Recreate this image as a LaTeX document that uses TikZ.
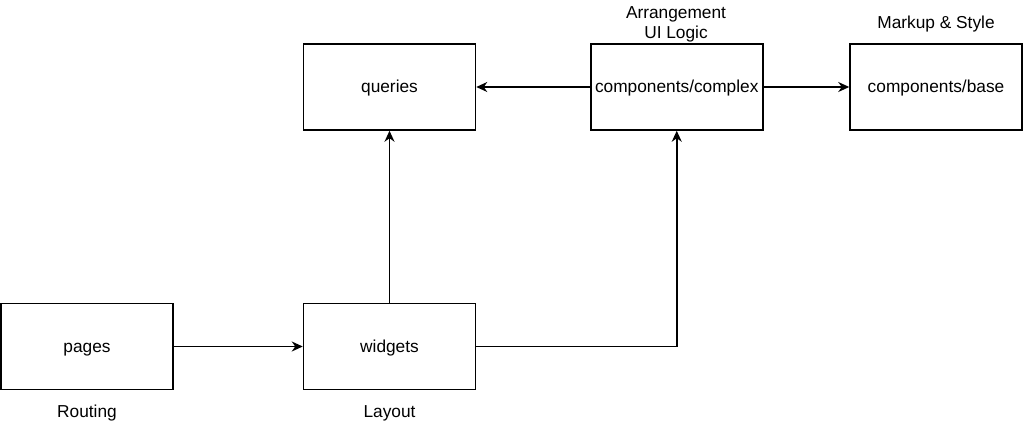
\documentclass[tikz,border=0pt]{standalone}
\usepackage{fontspec}
\setmainfont{Liberation Sans}
\usetikzlibrary{arrows.meta}
\begin{document}
\begin{tikzpicture}[x=1pt,y=-1pt,
  box/.style={draw=black,line width=1.5pt,minimum width=172pt,minimum height=86pt,inner sep=0pt,text height=15.5pt,text depth=3.6pt,font=\fontsize{17.3}{20}\selectfont},
  lbl/.style={font=\fontsize{17.3}{20}\selectfont,align=center,inner sep=0pt},
  sl/.style={lbl,text height=15pt,text depth=3.6pt},
  conn/.style={line width=1.5pt,-{Stealth[length=11pt,width=10pt,inset=3.5pt]}}]
\useasboundingbox (0,0) rectangle (1024,434);
\node[box] (queries) at (389.5,87) {queries};
\node[box] (complex) at (676.75,87) {components/complex};
\node[box] (base) at (936,87) {components/base};
\node[box] (pages) at (87,346.5) {pages};
\node[box] (widgets) at (389.5,346.5) {widgets};
\node[lbl] (arr) at (676,24) {Arrangement\\UI Logic};
\node[sl] (mk) at (936,22.5) {Markup \& Style};
\node[sl] (rt) at (87,411.5) {Routing};
\node[sl] (ly) at (389.5,411.5) {Layout};
\draw[conn] (complex) -- (queries);
\draw[conn] (complex) -- (base);
\draw[conn] (pages) -- (widgets);
\draw[conn] (widgets) -- (queries);
\draw[conn] (widgets.east) -| (complex.south);
\end{tikzpicture}
\end{document}
